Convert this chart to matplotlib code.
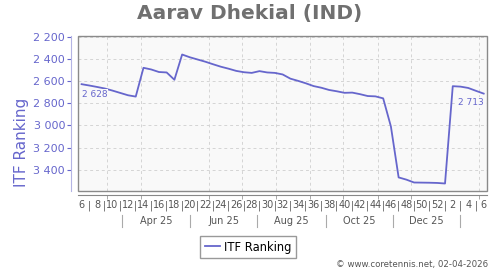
import pandas as pd
import matplotlib.pyplot as plt
import matplotlib.dates as mdates
from matplotlib.patches import Rectangle

# ITF ranking, one value per week (week 6 2025 -> week 6 2026)
week_labels = [6, 7, 8, 9, 10, 11, 12, 13, 14, 15, 16, 17, 18, 19, 20, 21, 22, 23, 24,
               25, 26, 27, 28, 29, 30, 31, 32, 33, 34, 35, 36, 37, 38, 39, 40, 41, 42,
               43, 44, 45, 46, 47, 48, 49, 50, 51, 52, 1, 2, 3, 4, 5, 6]
ranks = [2628, 2640, 2653, 2667, 2686, 2707, 2728, 2740, 2480, 2495, 2518, 2522, 2588,
         2360, 2385, 2405, 2425, 2448, 2470, 2488, 2508, 2520, 2526, 2510, 2522, 2526,
         2540, 2578, 2598, 2620, 2645, 2660, 2680, 2692, 2706, 2704, 2718, 2735, 2738,
         2756, 3010, 3470, 3490, 3516, 3517, 3518, 3520, 3525, 2646, 2650, 2662, 2688,
         2713]
start_date = "2025-02-06"

month_labels = ["Apr 25", "Jun 25", "Aug 25", "Oct 25", "Dec 25"]
month_label_dates = ["2025-04-15", "2025-06-15", "2025-08-15", "2025-10-15", "2025-12-15"]
month_sep_dates = ["2025-03-15", "2025-05-15", "2025-07-15", "2025-09-15",
                   "2025-11-15", "2026-01-15"]

dates = pd.date_range(start_date, periods=len(ranks), freq="7D")

blue = "#6666cc"
gray_txt = "#555555"


def fmt_rank(v):
    return f"{int(v):,}".replace(",", " ")


fig = plt.figure(figsize=(5, 2.7), dpi=100)
ax = fig.add_axes([0.1566, 0.2937, 0.8174, 0.5741])
ax.set_facecolor("#f9f9f9")

line, = ax.plot(dates, ranks, color=blue, lw=1.3, zorder=3)

ax.set_ylim(3590, 2190)
ax.set_xlim(dates[0] - pd.Timedelta(days=3), dates[-1] + pd.Timedelta(days=3))

# y axis
ax.set_yticks(range(2200, 3401, 200))
ax.yaxis.set_major_formatter(lambda v, p: fmt_rank(v))
ax.tick_params(axis="y", colors=blue, labelsize=8, length=3, width=0.8, pad=1.5)

# x axis: week numbers, month grid
ax.set_xticks(dates)
ax.set_xticklabels([str(w) if w % 2 == 0 else "|" for w in week_labels])
ax.xaxis.set_minor_locator(mdates.MonthLocator())
ax.tick_params(axis="x", which="major", length=0, labelsize=7, labelcolor=gray_txt, pad=4)
ax.tick_params(axis="x", which="minor", length=3, width=0.6, color="#999999")

ax.grid(which="minor", axis="x", ls=(0, (3, 3)), color="#d4d4d4", lw=0.7)
ax.grid(which="major", axis="y", ls=(0, (3, 3)), color="#d4d4d4", lw=0.7)

for s in ["top", "right"]:
    ax.spines[s].set_visible(False)
ax.spines["left"].set_position(("outward", 5))
ax.spines["left"].set_color("#b4b4e4")
ax.spines["bottom"].set_position(("outward", 3))
ax.spines["bottom"].set_color("#888888")
ax.add_patch(Rectangle((0, 0), 1, 1, transform=ax.transAxes, fill=False,
                       edgecolor="#8a8a8a", lw=1.0, zorder=5, clip_on=False))

# month row
xt = ax.get_xaxis_transform()
for d, lab in zip(month_label_dates, month_labels):
    ax.text(pd.Timestamp(d), -0.195, lab, transform=xt, ha="center", va="center",
            fontsize=7, color=gray_txt)
for d in month_sep_dates:
    ax.plot([pd.Timestamp(d)] * 2, [-0.157, -0.232], transform=xt, clip_on=False,
            color="#aaaaaa", lw=0.8)

# first / last value labels
box = dict(facecolor="#f9f9f9", edgecolor="none", pad=0.8)
ax.annotate(fmt_rank(ranks[0]), (dates[0], ranks[0]), xytext=(0, -7.2),
            textcoords="offset points", ha="left", va="center", fontsize=6.5,
            color=blue, bbox=box, zorder=4)
ax.annotate(fmt_rank(ranks[-1]), (dates[-1], ranks[-1]), xytext=(0, -6.5),
            textcoords="offset points", ha="right", va="center", fontsize=6.5,
            color=blue, bbox=box, zorder=4)

fig.text(0.5, 1 - 13 / 270, "Aarav Dhekial (IND)", ha="center", va="center",
         fontsize=14.5, fontweight="bold", color="#707070")
fig.text(22 / 500, 1 - 142 / 270, "ITF Ranking", rotation=90, ha="center", va="center",
         fontsize=11, color=blue)

fig.legend([line], ["ITF Ranking"], loc="center", bbox_to_anchor=(248 / 500, 1 - 247 / 270),
           fontsize=8.3, frameon=True, fancybox=False, edgecolor="#999999", framealpha=1,
           handlelength=1.3, handletextpad=0.4, borderpad=0.35)

fig.text(488 / 500, 1 - 265 / 270, "\u00a9 www.coretennis.net, 02-04-2026", ha="right",
         va="center", fontsize=6.2, color=gray_txt)

fig.savefig("out.png", dpi=100)
